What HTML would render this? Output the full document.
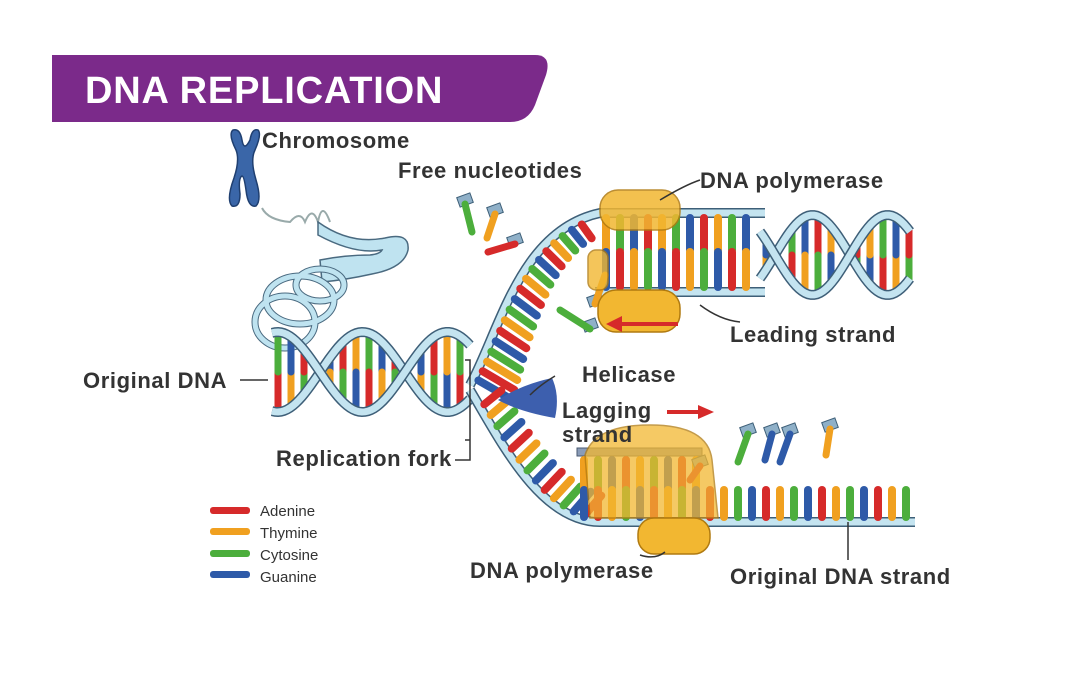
<!DOCTYPE html>
<html><head><meta charset="utf-8"><style>
html,body{margin:0;padding:0;background:#fff;}
svg{display:block;}
text{font-family:"Liberation Sans",Arial,sans-serif;font-weight:bold;fill:#333;}
</style></head><body>
<svg id="s" width="1080" height="677" viewBox="0 0 1080 677" xmlns="http://www.w3.org/2000/svg">
<rect width="1080" height="677" fill="#fff"/>
<path d="M52 55 H535 Q552 55 546 75 L535 105 Q528 122 510 122 H52 Z" fill="#7b2a8a"/>
<text x="85" y="103" font-size="38" letter-spacing="0.8" style="fill:#fff">DNA REPLICATION</text>
<!-- chromosome -->
<g fill="#3a66a8" stroke="#1f3f70" stroke-width="1.5">
<path d="M233 130 Q240 128 242 140 Q244 152 250 140 Q252 128 258 130 Q262 134 255 150 Q250 160 256 180 Q262 200 256 206 Q248 208 246 190 Q244 176 242 176 Q238 178 240 194 Q240 208 232 206 Q226 200 234 178 Q240 160 236 150 Q228 134 233 130 Z"/>
</g>
<path d="M262 208 Q268 220 290 222 Q300 210 305 222 Q312 205 318 222 Q322 200 330 222" fill="none" stroke="#9aa" stroke-width="2"/>
<!-- tube -->
<path d="M318 222 Q350 245 385 238 Q410 232 408 250 Q404 268 372 274 Q345 280 322 282 L320 260 Q345 255 370 255 Q380 254 382 250 Q355 255 318 235 Z" fill="#bfe3f0" stroke="#4a6a80" stroke-width="1.5"/>
<g fill="none" stroke="#4a6a80" stroke-width="7">
<ellipse cx="320" cy="285" rx="24" ry="16"/><ellipse cx="300" cy="300" rx="34" ry="24"/><ellipse cx="285" cy="322" rx="30" ry="26"/>
</g>
<g fill="none" stroke="#bfe3f0" stroke-width="5">
<ellipse cx="320" cy="285" rx="24" ry="16"/><ellipse cx="300" cy="300" rx="34" ry="24"/><ellipse cx="285" cy="322" rx="30" ry="26"/>
</g>
<g id="dna"></g>
<!-- polymerases -->
<g fill="#f2b731" stroke="#b07a10" stroke-width="1.5">
<rect x="600" y="190" width="80" height="40" rx="18" opacity="0.85"/>
<rect x="588" y="250" width="20" height="40" rx="8" opacity="0.8"/>
<rect x="598" y="290" width="82" height="42" rx="18"/>
<path d="M585 455 Q595 425 650 425 Q708 425 712 460 L718 518 L640 518 L590 518 Z" opacity="0.75"/>
<rect x="638" y="518" width="72" height="36" rx="16"/>
</g>
<!-- helicase -->
<path d="M498 400 Q520 385 552 378 Q560 395 555 418 Q520 412 498 400 Z" fill="#3d5fae"/>
<!-- red arrows -->
<g fill="#d62a2a"><rect x="620" y="322" width="58" height="4"/><path d="M606 324 L622 316 L622 332 Z"/>
<rect x="667" y="410" width="34" height="4"/><path d="M714 412 L698 405 L698 419 Z"/></g>
<!-- labels -->
<g font-size="22" letter-spacing="0.6">
<text x="262" y="148">Chromosome</text>
<text x="398" y="178">Free nucleotides</text>
<text x="700" y="188">DNA polymerase</text>
<text x="730" y="342">Leading strand</text>
<text x="83" y="388">Original DNA</text>
<text x="582" y="382">Helicase</text>
<text x="562" y="418">Lagging</text>
<text x="562" y="442">strand</text>
<text x="276" y="466">Replication fork</text>
<text x="470" y="578">DNA polymerase</text>
<text x="730" y="584">Original DNA strand</text>
</g>
<g stroke="#333" stroke-width="1.5" fill="none">
<path d="M240 380 H268"/><path d="M660 200 Q685 185 700 180"/><path d="M700 305 Q720 320 740 322"/>
<path d="M555 376 Q540 385 530 395"/><path d="M455 460 H470 V360 H465 M470 440 H465"/>
<path d="M640 555 Q655 560 665 552"/><path d="M848 522 V560"/>
</g>
<!-- legend -->
<g font-size="15">
<rect x="210" y="507" width="40" height="7" rx="3" fill="#d62a2a"/><text x="260" y="516" style="font-weight:normal">Adenine</text>
<rect x="210" y="528" width="40" height="7" rx="3" fill="#f0a020"/><text x="260" y="538" style="font-weight:normal">Thymine</text>
<rect x="210" y="550" width="40" height="7" rx="3" fill="#4cae3c"/><text x="260" y="560" style="font-weight:normal">Cytosine</text>
<rect x="210" y="571" width="40" height="7" rx="3" fill="#2e5aa8"/><text x="260" y="582" style="font-weight:normal">Guanine</text>
</g>
</svg>
<script>
var C=["#d62a2a","#f0a020","#4cae3c","#2e5aa8"];
var g=document.getElementById('dna'),NS="http://www.w3.org/2000/svg";
function el(t,a){var e=document.createElementNS(NS,t);for(var k in a)e.setAttribute(k,a[k]);g.appendChild(e);return e;}
function line(x1,y1,x2,y2,c,w){el('line',{x1:x1,y1:y1,x2:x2,y2:y2,stroke:c,'stroke-width':w||7,'stroke-linecap':'round'});}
function back(d){el('path',{d:d,fill:'none',stroke:'#3e5f78','stroke-width':10});el('path',{d:d,fill:'none',stroke:'#c4e4f0','stroke-width':7});}
var i=0;
function helix(x0,x1,cy,A,P,ph){var a="",b="";for(var x=x0;x<=x1;x+=3){var s=Math.sin(2*Math.PI*(x-ph)/P);a+=(x==x0?"M":"L")+x+" "+(cy-A*s);b+=(x==x0?"M":"L")+x+" "+(cy+A*s);}
for(var x=x0+6;x<x1;x+=13){var s=Math.sin(2*Math.PI*(x-ph)/P);if(Math.abs(s)<0.25)continue;var y1=cy-A*s,y2=cy+A*s;var m=(y1+y2)/2;line(x,y1,x,m,C[i%4],7);line(x,m,x,y2,C[(i+2)%4],7);i++;}
back(a);back(b);}
helix(272,470,372,40,170,320);
helix(760,912,255,40,150,775);
back("M470 385 C500 330 520 230 600 213 L765 213");
back("M595 292 L765 292");
for(var t=0.05;t<0.95;t+=0.05){var p=[470,385],q=[500,330],r=[520,230],s=[600,213];
function bz(k){var u=1-t;return u*u*u*p[k]+3*u*u*t*q[k]+3*u*t*t*r[k]+t*t*t*s[k];}
var x=bz(0),y=bz(1);var dx=(1-t)*30+8,dy=(1-t)*10+22;line(x+4,y+4,x+4+dx*0.9,y+4+dy*0.6,C[i++%4],8);}
for(var x=606;x<760;x+=14){line(x,218,x,250,C[i%4],8);line(x,252,x,287,C[(i+2)%4],8);i++;}
back("M470 390 C500 440 540 522 600 522 L915 522");
for(var t=0.1;t<0.92;t+=0.065){var p=[470,392],q=[500,440],r=[540,522],s=[600,522];
function bz2(k){var u=1-t;return u*u*u*p[k]+3*u*u*t*q[k]+3*u*t*t*r[k]+t*t*t*s[k];}
var x=bz2(0),y=bz2(1);line(x+5,y-3,x+22,y-16+ t*-8,C[i++%4],8);}
el('rect',{x:577,y:448,width:125,height:8,fill:'#8a9cb8',stroke:'#4a5a70'});
for(var x=584;x<910;x+=14){if(x<705){line(x,460,x,488,C[i%4],8);}line(x,490,x,517,C[(i+2)%4],8);i++;}
[[465,200,472,232,2],[495,210,487,238,1],[515,240,488,252,0],[595,300,605,275,1],[590,325,560,310,2],[772,430,765,460,3],[790,430,780,462,3],[830,425,826,455,1],[748,430,738,462,2],[700,462,690,480,0]].forEach(function(n){
el('rect',{x:n[0]-7,y:n[1]-5,width:14,height:10,fill:'#8fb0c8',stroke:'#3e5f78',transform:'rotate(-20 '+n[0]+' '+n[1]+')'});line(n[0],n[1]+4,n[2],n[3],C[n[4]],7);});
</script>
</body></html>
